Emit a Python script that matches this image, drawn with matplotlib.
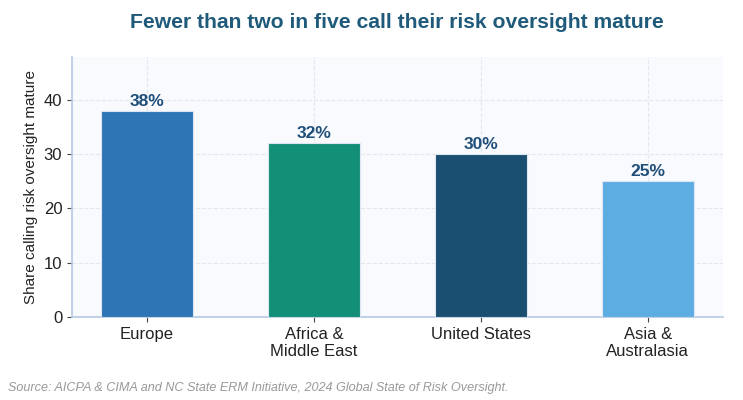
import matplotlib
matplotlib.use("Agg")
import matplotlib.pyplot as plt

categories = ["Europe", "Africa &\nMiddle East", "United States", "Asia &\nAustralasia"]
values = [38, 32, 30, 25]
labels = ["38%", "32%", "30%", "25%"]
colors = ["#2E75B6", "#148F77", "#1B4F72", "#5DADE2"]

plt.rcParams['font.family'] = ['Liberation Sans', 'DejaVu Sans']

fig = plt.figure(figsize=(7.43, 4.0), dpi=100)
ax = fig.add_axes([0.0969, 0.2075, 0.8762, 0.65])
ax.set_facecolor("#F8FAFD")

x = list(range(len(categories)))
bars = ax.bar(x, values, width=0.55, color=colors, edgecolor="#DDE6F2", linewidth=0.8, zorder=3)
for xi, v, lab in zip(x, values, labels):
    ax.text(xi, v + 0.4, lab, ha="center", va="bottom", fontsize=12.5, fontweight="bold", color="#1F4E79", zorder=4)

ax.set_xlim(-0.45, 3.45)
ax.set_ylim(0, 47.9)
ax.set_xticks(x)
ax.set_xticklabels(categories, fontsize=12, color="#222222")
ax.set_yticks([0, 10, 20, 30, 40])
ax.tick_params(axis="y", labelsize=12, colors="#222222")
ax.tick_params(axis="both", color="#444444")
ax.set_ylabel("Share calling risk oversight mature", fontsize=11, color="#222222")

ax.grid(True, linestyle="--", color="#E3E8EF", linewidth=0.8, zorder=0)
for s in ["top", "right"]:
    ax.spines[s].set_visible(False)
for s in ["left", "bottom"]:
    ax.spines[s].set_color("#B5C9E3")
    ax.spines[s].set_linewidth(1.2)

fig.text(0.534, 0.945, "Fewer than two in five call their risk oversight mature", ha="center", va="center",
         fontsize=15.2, fontweight="bold", color="#1F5A7A")
fig.text(0.011, 0.03, "Source: AICPA & CIMA and NC State ERM Initiative, 2024 Global State of Risk Oversight.",
         ha="left", va="center", fontsize=9.1, style="italic", color="#999999")

fig.savefig("out.png", dpi=100)
